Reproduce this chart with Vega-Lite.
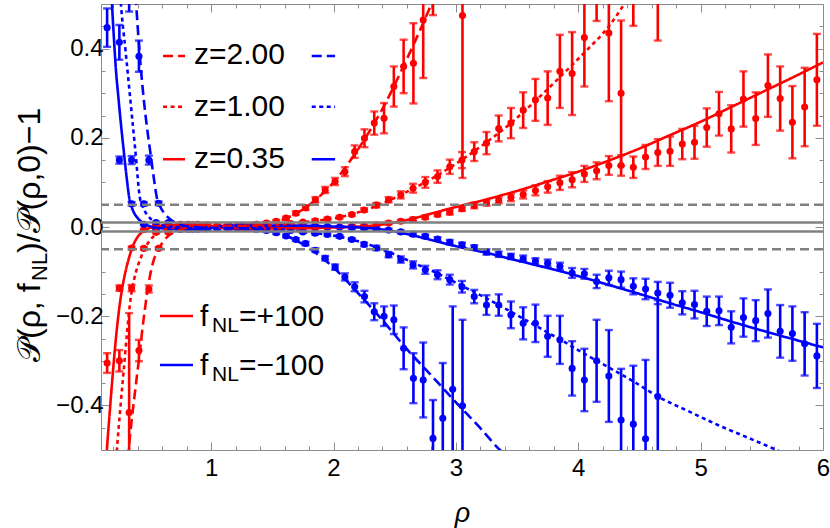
{
"$schema":"https://vega.github.io/schema/vega-lite/v6.json",
"width":722,"height":446,"autosize":{"type":"none"},
"padding":{"left":101,"top":4,"right":7,"bottom":78},
"background":"white",
"config":{"view":{"stroke":"#8c8c8c","strokeWidth":1},"font":"Liberation Sans","text":{"font":"Liberation Sans"}},
"resolve":{"axis":{"x":"independent","y":"independent"}},
"datasets":{
"cur":[
{"s":"rs","x":0.14,"y":-0.535},{"s":"rs","x":0.148,"y":-0.5},{"s":"rs","x":0.17,"y":-0.42},{"s":"rs","x":0.19,"y":-0.35},{"s":"rs","x":0.21,"y":-0.285},{"s":"rs","x":0.23,"y":-0.228},{"s":"rs","x":0.25,"y":-0.18},{"s":"rs","x":0.27,"y":-0.143},{"s":"rs","x":0.3,"y":-0.1},{"s":"rs","x":0.326,"y":-0.072},{"s":"rs","x":0.36,"y":-0.043},{"s":"rs","x":0.4,"y":-0.022},{"s":"rs","x":0.45,"y":-0.009},{"s":"rs","x":0.5,"y":-0.002},{"s":"rs","x":0.6,"y":0.003},{"s":"rs","x":0.75,"y":0.004},{"s":"rs","x":0.9,"y":0.002},{"s":"rs","x":1.1,"y":-0.002},{"s":"rs","x":1.4,"y":-0.003},{"s":"rs","x":1.7,"y":-0.003},{"s":"rs","x":2.0,"y":-0.001},{"s":"rs","x":2.2,"y":0.001},{"s":"rs","x":2.35,"y":0.004},{"s":"rs","x":2.5,"y":0.01},{"s":"rs","x":2.65,"y":0.019},{"s":"rs","x":2.8,"y":0.03},{"s":"rs","x":3.0,"y":0.045},{"s":"rs","x":3.25,"y":0.062},{"s":"rs","x":3.5,"y":0.081},{"s":"rs","x":3.75,"y":0.102},{"s":"rs","x":4.0,"y":0.124},{"s":"rs","x":4.25,"y":0.149},{"s":"rs","x":4.5,"y":0.176},{"s":"rs","x":4.75,"y":0.206},{"s":"rs","x":5.0,"y":0.236},{"s":"rs","x":5.25,"y":0.269},{"s":"rs","x":5.5,"y":0.302},{"s":"rs","x":5.75,"y":0.335},{"s":"rs","x":6.0,"y":0.369},
{"s":"bs","x":0.185,"y":0.53},{"s":"bs","x":0.19,"y":0.5},{"s":"bs","x":0.203,"y":0.435},{"s":"bs","x":0.22,"y":0.36},{"s":"bs","x":0.244,"y":0.285},{"s":"bs","x":0.265,"y":0.225},{"s":"bs","x":0.285,"y":0.173},{"s":"bs","x":0.31,"y":0.11},{"s":"bs","x":0.331,"y":0.065},{"s":"bs","x":0.36,"y":0.038},{"s":"bs","x":0.4,"y":0.02},{"s":"bs","x":0.45,"y":0.008},{"s":"bs","x":0.5,"y":0.002},{"s":"bs","x":0.6,"y":-0.003},{"s":"bs","x":0.75,"y":-0.004},{"s":"bs","x":0.9,"y":-0.002},{"s":"bs","x":1.1,"y":0.002},{"s":"bs","x":1.4,"y":0.003},{"s":"bs","x":1.7,"y":0.003},{"s":"bs","x":2.0,"y":0.001},{"s":"bs","x":2.2,"y":-0.001},{"s":"bs","x":2.35,"y":-0.004},{"s":"bs","x":2.5,"y":-0.01},{"s":"bs","x":2.65,"y":-0.019},{"s":"bs","x":2.8,"y":-0.029},{"s":"bs","x":3.0,"y":-0.043},{"s":"bs","x":3.25,"y":-0.058},{"s":"bs","x":3.5,"y":-0.075},{"s":"bs","x":3.75,"y":-0.092},{"s":"bs","x":4.0,"y":-0.11},{"s":"bs","x":4.25,"y":-0.13},{"s":"bs","x":4.5,"y":-0.15},{"s":"bs","x":4.75,"y":-0.171},{"s":"bs","x":5.0,"y":-0.191},{"s":"bs","x":5.25,"y":-0.212},{"s":"bs","x":5.5,"y":-0.232},{"s":"bs","x":5.75,"y":-0.251},{"s":"bs","x":6.0,"y":-0.27},
{"s":"rd","x":0.225,"y":-0.52},{"s":"rd","x":0.23,"y":-0.5},{"s":"rd","x":0.26,"y":-0.4},{"s":"rd","x":0.286,"y":-0.32},{"s":"rd","x":0.31,"y":-0.245},{"s":"rd","x":0.34,"y":-0.165},{"s":"rd","x":0.37,"y":-0.118},{"s":"rd","x":0.4,"y":-0.088},{"s":"rd","x":0.42,"y":-0.073},{"s":"rd","x":0.45,"y":-0.052},{"s":"rd","x":0.5,"y":-0.03},{"s":"rd","x":0.55,"y":-0.016},{"s":"rd","x":0.6,"y":-0.008},{"s":"rd","x":0.7,"y":-0.001},{"s":"rd","x":0.85,"y":0.002},{"s":"rd","x":1.0,"y":0.001},{"s":"rd","x":1.2,"y":0.0},{"s":"rd","x":1.5,"y":0.004},{"s":"rd","x":1.8,"y":0.012},{"s":"rd","x":2.05,"y":0.022},{"s":"rd","x":2.25,"y":0.037},{"s":"rd","x":2.45,"y":0.059},{"s":"rd","x":2.65,"y":0.086},{"s":"rd","x":2.85,"y":0.116},{"s":"rd","x":3.05,"y":0.151},{"s":"rd","x":3.25,"y":0.19},{"s":"rd","x":3.45,"y":0.233},{"s":"rd","x":3.65,"y":0.283},{"s":"rd","x":3.85,"y":0.336},{"s":"rd","x":4.05,"y":0.391},{"s":"rd","x":4.25,"y":0.45},{"s":"rd","x":4.4,"y":0.51},
{"s":"bd","x":0.258,"y":0.52},{"s":"bd","x":0.263,"y":0.5},{"s":"bd","x":0.3,"y":0.397},{"s":"bd","x":0.34,"y":0.285},{"s":"bd","x":0.38,"y":0.173},{"s":"bd","x":0.42,"y":0.062},{"s":"bd","x":0.435,"y":0.05},{"s":"bd","x":0.47,"y":0.03},{"s":"bd","x":0.5,"y":0.02},{"s":"bd","x":0.55,"y":0.01},{"s":"bd","x":0.6,"y":0.004},{"s":"bd","x":0.7,"y":0.0},{"s":"bd","x":0.85,"y":-0.002},{"s":"bd","x":1.0,"y":-0.001},{"s":"bd","x":1.2,"y":0.0},{"s":"bd","x":1.5,"y":-0.004},{"s":"bd","x":1.8,"y":-0.012},{"s":"bd","x":2.05,"y":-0.022},{"s":"bd","x":2.25,"y":-0.036},{"s":"bd","x":2.45,"y":-0.056},{"s":"bd","x":2.65,"y":-0.08},{"s":"bd","x":2.85,"y":-0.104},{"s":"bd","x":3.05,"y":-0.132},{"s":"bd","x":3.25,"y":-0.16},{"s":"bd","x":3.45,"y":-0.19},{"s":"bd","x":3.65,"y":-0.221},{"s":"bd","x":3.85,"y":-0.252},{"s":"bd","x":4.05,"y":-0.284},{"s":"bd","x":4.25,"y":-0.315},{"s":"bd","x":4.45,"y":-0.346},{"s":"bd","x":4.65,"y":-0.38},{"s":"bd","x":4.9,"y":-0.413},{"s":"bd","x":5.15,"y":-0.445},{"s":"bd","x":5.4,"y":-0.474},{"s":"bd","x":5.62,"y":-0.5},{"s":"bd","x":5.7,"y":-0.51},
{"s":"rD","x":0.32,"y":-0.52},{"s":"rD","x":0.326,"y":-0.5},{"s":"rD","x":0.35,"y":-0.435},{"s":"rD","x":0.38,"y":-0.365},{"s":"rD","x":0.41,"y":-0.297},{"s":"rD","x":0.44,"y":-0.225},{"s":"rD","x":0.476,"y":-0.15},{"s":"rD","x":0.5,"y":-0.11},{"s":"rD","x":0.53,"y":-0.075},{"s":"rD","x":0.57,"y":-0.05},{"s":"rD","x":0.61,"y":-0.032},{"s":"rD","x":0.65,"y":-0.02},{"s":"rD","x":0.75,"y":-0.006},{"s":"rD","x":0.85,"y":0.0},{"s":"rD","x":1.0,"y":0.002},{"s":"rD","x":1.2,"y":0.002},{"s":"rD","x":1.3,"y":0.003},{"s":"rD","x":1.4,"y":0.005},{"s":"rD","x":1.5,"y":0.01},{"s":"rD","x":1.6,"y":0.018},{"s":"rD","x":1.7,"y":0.031},{"s":"rD","x":1.84,"y":0.058},{"s":"rD","x":2.0,"y":0.1},{"s":"rD","x":2.2,"y":0.174},{"s":"rD","x":2.4,"y":0.265},{"s":"rD","x":2.6,"y":0.377},{"s":"rD","x":2.8,"y":0.5},{"s":"rD","x":2.83,"y":0.52},
{"s":"bD","x":0.384,"y":0.52},{"s":"bD","x":0.388,"y":0.5},{"s":"bD","x":0.41,"y":0.41},{"s":"bD","x":0.448,"y":0.29},{"s":"bD","x":0.475,"y":0.225},{"s":"bD","x":0.503,"y":0.168},{"s":"bD","x":0.53,"y":0.113},{"s":"bD","x":0.557,"y":0.065},{"s":"bD","x":0.585,"y":0.045},{"s":"bD","x":0.62,"y":0.03},{"s":"bD","x":0.65,"y":0.021},{"s":"bD","x":0.7,"y":0.011},{"s":"bD","x":0.75,"y":0.005},{"s":"bD","x":0.85,"y":0.0},{"s":"bD","x":1.0,"y":-0.002},{"s":"bD","x":1.3,"y":-0.003},{"s":"bD","x":1.4,"y":-0.005},{"s":"bD","x":1.5,"y":-0.01},{"s":"bD","x":1.6,"y":-0.018},{"s":"bD","x":1.7,"y":-0.031},{"s":"bD","x":1.84,"y":-0.055},{"s":"bD","x":2.0,"y":-0.091},{"s":"bD","x":2.2,"y":-0.148},{"s":"bD","x":2.4,"y":-0.209},{"s":"bD","x":2.6,"y":-0.274},{"s":"bD","x":2.8,"y":-0.333},{"s":"bD","x":3.0,"y":-0.393},{"s":"bD","x":3.2,"y":-0.451},{"s":"bD","x":3.36,"y":-0.5},{"s":"bD","x":3.4,"y":-0.51}
],
"pts":[
{"s":"rs","x":0.15,"y":-0.305,"lo":-0.327,"hi":-0.283},{"s":"rs","x":0.25,"y":-0.137,"lo":-0.143,"hi":-0.131},{"s":"rs","x":0.35,"y":-0.047,"lo":-0.05,"hi":-0.044},{"s":"rs","x":0.45,"y":-0.006,"lo":-0.008,"hi":-0.004},{"s":"rs","x":0.55,"y":0.005,"lo":0.003,"hi":0.007},{"s":"rs","x":0.65,"y":0.006,"lo":0.004,"hi":0.008},{"s":"rs","x":0.75,"y":0.006,"lo":0.004,"hi":0.008},{"s":"rs","x":0.85,"y":0.005,"lo":0.003,"hi":0.007},{"s":"rs","x":0.95,"y":0.003,"lo":0.001,"hi":0.005},{"s":"rs","x":1.05,"y":0.0,"lo":-0.002,"hi":0.002},{"s":"rs","x":1.15,"y":-0.002,"lo":-0.004,"hi":0.0},{"s":"rs","x":1.25,"y":-0.003,"lo":-0.005,"hi":-0.001},{"s":"rs","x":1.35,"y":-0.004,"lo":-0.006,"hi":-0.002},{"s":"rs","x":1.45,"y":-0.004,"lo":-0.006,"hi":-0.002},{"s":"rs","x":1.55,"y":-0.004,"lo":-0.006,"hi":-0.002},{"s":"rs","x":1.65,"y":-0.004,"lo":-0.006,"hi":-0.002},{"s":"rs","x":1.75,"y":-0.003,"lo":-0.005,"hi":-0.001},{"s":"rs","x":1.85,"y":-0.002,"lo":-0.004,"hi":0.0},{"s":"rs","x":1.95,"y":-0.001,"lo":-0.003,"hi":0.001},{"s":"rs","x":2.05,"y":0.0,"lo":-0.002,"hi":0.002},{"s":"rs","x":2.15,"y":0.001,"lo":-0.002,"hi":0.004},{"s":"rs","x":2.25,"y":0.002,"lo":-0.001,"hi":0.005},{"s":"rs","x":2.35,"y":0.005,"lo":0.002,"hi":0.008},{"s":"rs","x":2.45,"y":0.009,"lo":0.006,"hi":0.012},{"s":"rs","x":2.55,"y":0.013,"lo":0.01,"hi":0.016},{"s":"rs","x":2.65,"y":0.017,"lo":0.013,"hi":0.021},{"s":"rs","x":2.75,"y":0.022,"lo":0.018,"hi":0.026},{"s":"rs","x":2.85,"y":0.028,"lo":0.024,"hi":0.032},{"s":"rs","x":2.95,"y":0.033,"lo":0.028,"hi":0.038},{"s":"rs","x":3.05,"y":0.041,"lo":0.036,"hi":0.046},{"s":"rs","x":3.15,"y":0.048,"lo":0.042,"hi":0.054},{"s":"rs","x":3.25,"y":0.054,"lo":0.048,"hi":0.06},{"s":"rs","x":3.35,"y":0.06,"lo":0.053,"hi":0.067},{"s":"rs","x":3.45,"y":0.066,"lo":0.058,"hi":0.074},{"s":"rs","x":3.55,"y":0.073,"lo":0.064,"hi":0.082},{"s":"rs","x":3.65,"y":0.082,"lo":0.071,"hi":0.093},{"s":"rs","x":3.75,"y":0.09,"lo":0.077,"hi":0.103},{"s":"rs","x":3.85,"y":0.099,"lo":0.083,"hi":0.115},{"s":"rs","x":3.95,"y":0.106,"lo":0.089,"hi":0.123},{"s":"rs","x":4.05,"y":0.119,"lo":0.101,"hi":0.137},{"s":"rs","x":4.15,"y":0.126,"lo":0.107,"hi":0.145},{"s":"rs","x":4.25,"y":0.138,"lo":0.117,"hi":0.159},{"s":"rs","x":4.35,"y":0.138,"lo":0.115,"hi":0.161},{"s":"rs","x":4.45,"y":0.134,"lo":0.11,"hi":0.158},{"s":"rs","x":4.55,"y":0.157,"lo":0.13,"hi":0.184},{"s":"rs","x":4.65,"y":0.167,"lo":0.137,"hi":0.197},{"s":"rs","x":4.75,"y":0.17,"lo":0.137,"hi":0.203},{"s":"rs","x":4.85,"y":0.186,"lo":0.152,"hi":0.22},{"s":"rs","x":4.95,"y":0.19,"lo":0.153,"hi":0.227},{"s":"rs","x":5.05,"y":0.223,"lo":0.18,"hi":0.266},{"s":"rs","x":5.15,"y":0.254,"lo":0.205,"hi":0.303},{"s":"rs","x":5.25,"y":0.22,"lo":0.167,"hi":0.273},{"s":"rs","x":5.35,"y":0.287,"lo":0.225,"hi":0.349},{"s":"rs","x":5.45,"y":0.243,"lo":0.184,"hi":0.302},{"s":"rs","x":5.55,"y":0.317,"lo":0.247,"hi":0.387},{"s":"rs","x":5.65,"y":0.288,"lo":0.216,"hi":0.36},{"s":"rs","x":5.75,"y":0.235,"lo":0.154,"hi":0.316},{"s":"rs","x":5.85,"y":0.269,"lo":0.181,"hi":0.357},{"s":"rs","x":5.95,"y":0.33,"lo":0.227,"hi":0.433},
{"s":"bs","x":0.15,"y":0.447,"lo":0.404,"hi":0.49},{"s":"bs","x":0.25,"y":0.15,"lo":0.142,"hi":0.158},{"s":"bs","x":0.35,"y":0.052,"lo":0.048,"hi":0.056},{"s":"bs","x":0.45,"y":0.006,"lo":0.004,"hi":0.008},{"s":"bs","x":0.55,"y":-0.004,"lo":-0.006,"hi":-0.002},{"s":"bs","x":0.65,"y":-0.005,"lo":-0.007,"hi":-0.003},{"s":"bs","x":0.75,"y":-0.005,"lo":-0.007,"hi":-0.003},{"s":"bs","x":0.85,"y":-0.004,"lo":-0.006,"hi":-0.002},{"s":"bs","x":0.95,"y":-0.002,"lo":-0.004,"hi":0.0},{"s":"bs","x":1.05,"y":0.0,"lo":-0.002,"hi":0.002},{"s":"bs","x":1.15,"y":0.002,"lo":0.0,"hi":0.004},{"s":"bs","x":1.25,"y":0.003,"lo":0.001,"hi":0.005},{"s":"bs","x":1.35,"y":0.004,"lo":0.002,"hi":0.006},{"s":"bs","x":1.45,"y":0.004,"lo":0.002,"hi":0.006},{"s":"bs","x":1.55,"y":0.004,"lo":0.002,"hi":0.006},{"s":"bs","x":1.65,"y":0.003,"lo":0.001,"hi":0.005},{"s":"bs","x":1.75,"y":0.003,"lo":0.001,"hi":0.005},{"s":"bs","x":1.85,"y":0.002,"lo":0.0,"hi":0.004},{"s":"bs","x":1.95,"y":0.001,"lo":-0.001,"hi":0.003},{"s":"bs","x":2.05,"y":0.0,"lo":-0.002,"hi":0.002},{"s":"bs","x":2.15,"y":-0.001,"lo":-0.004,"hi":0.002},{"s":"bs","x":2.25,"y":-0.002,"lo":-0.005,"hi":0.001},{"s":"bs","x":2.35,"y":-0.004,"lo":-0.007,"hi":-0.001},{"s":"bs","x":2.45,"y":-0.007,"lo":-0.01,"hi":-0.004},{"s":"bs","x":2.55,"y":-0.011,"lo":-0.014,"hi":-0.008},{"s":"bs","x":2.65,"y":-0.016,"lo":-0.02,"hi":-0.012},{"s":"bs","x":2.75,"y":-0.021,"lo":-0.025,"hi":-0.017},{"s":"bs","x":2.85,"y":-0.027,"lo":-0.031,"hi":-0.023},{"s":"bs","x":2.95,"y":-0.034,"lo":-0.039,"hi":-0.029},{"s":"bs","x":3.05,"y":-0.04,"lo":-0.045,"hi":-0.035},{"s":"bs","x":3.15,"y":-0.046,"lo":-0.051,"hi":-0.041},{"s":"bs","x":3.25,"y":-0.056,"lo":-0.062,"hi":-0.05},{"s":"bs","x":3.35,"y":-0.061,"lo":-0.067,"hi":-0.055},{"s":"bs","x":3.45,"y":-0.066,"lo":-0.072,"hi":-0.06},{"s":"bs","x":3.55,"y":-0.071,"lo":-0.078,"hi":-0.064},{"s":"bs","x":3.65,"y":-0.077,"lo":-0.084,"hi":-0.07},{"s":"bs","x":3.75,"y":-0.081,"lo":-0.089,"hi":-0.073},{"s":"bs","x":3.85,"y":-0.088,"lo":-0.096,"hi":-0.08},{"s":"bs","x":3.95,"y":-0.103,"lo":-0.114,"hi":-0.092},{"s":"bs","x":4.05,"y":-0.105,"lo":-0.116,"hi":-0.094},{"s":"bs","x":4.15,"y":-0.122,"lo":-0.137,"hi":-0.107},{"s":"bs","x":4.25,"y":-0.114,"lo":-0.13,"hi":-0.098},{"s":"bs","x":4.35,"y":-0.118,"lo":-0.136,"hi":-0.1},{"s":"bs","x":4.45,"y":-0.133,"lo":-0.151,"hi":-0.115},{"s":"bs","x":4.55,"y":-0.139,"lo":-0.162,"hi":-0.116},{"s":"bs","x":4.65,"y":-0.148,"lo":-0.173,"hi":-0.123},{"s":"bs","x":4.75,"y":-0.153,"lo":-0.181,"hi":-0.125},{"s":"bs","x":4.85,"y":-0.17,"lo":-0.196,"hi":-0.144},{"s":"bs","x":4.95,"y":-0.174,"lo":-0.205,"hi":-0.143},{"s":"bs","x":5.05,"y":-0.189,"lo":-0.222,"hi":-0.156},{"s":"bs","x":5.15,"y":-0.188,"lo":-0.22,"hi":-0.156},{"s":"bs","x":5.25,"y":-0.225,"lo":-0.261,"hi":-0.189},{"s":"bs","x":5.35,"y":-0.203,"lo":-0.246,"hi":-0.16},{"s":"bs","x":5.45,"y":-0.21,"lo":-0.256,"hi":-0.164},{"s":"bs","x":5.55,"y":-0.194,"lo":-0.248,"hi":-0.14},{"s":"bs","x":5.65,"y":-0.234,"lo":-0.293,"hi":-0.175},{"s":"bs","x":5.75,"y":-0.239,"lo":-0.3,"hi":-0.178},{"s":"bs","x":5.85,"y":-0.262,"lo":-0.333,"hi":-0.191},{"s":"bs","x":5.95,"y":-0.289,"lo":-0.361,"hi":-0.217},
{"s":"rd","x":0.25,"y":-0.3,"lo":-0.324,"hi":-0.276},{"s":"rd","x":0.35,"y":-0.137,"lo":-0.144,"hi":-0.13},{"s":"rd","x":0.45,"y":-0.048,"lo":-0.051,"hi":-0.045},{"s":"rd","x":0.55,"y":-0.012,"lo":-0.014,"hi":-0.01},{"s":"rd","x":0.65,"y":0.002,"lo":0.0,"hi":0.004},{"s":"rd","x":0.75,"y":0.005,"lo":0.003,"hi":0.007},{"s":"rd","x":0.85,"y":0.005,"lo":0.003,"hi":0.007},{"s":"rd","x":0.95,"y":0.004,"lo":0.002,"hi":0.006},{"s":"rd","x":1.05,"y":0.002,"lo":0.0,"hi":0.004},{"s":"rd","x":1.15,"y":0.0,"lo":-0.002,"hi":0.002},{"s":"rd","x":1.25,"y":-0.001,"lo":-0.003,"hi":0.001},{"s":"rd","x":1.35,"y":0.0,"lo":-0.002,"hi":0.002},{"s":"rd","x":1.45,"y":0.002,"lo":0.0,"hi":0.004},{"s":"rd","x":1.55,"y":0.005,"lo":0.003,"hi":0.007},{"s":"rd","x":1.65,"y":0.008,"lo":0.006,"hi":0.01},{"s":"rd","x":1.75,"y":0.011,"lo":0.009,"hi":0.013},{"s":"rd","x":1.85,"y":0.014,"lo":0.011,"hi":0.017},{"s":"rd","x":1.95,"y":0.018,"lo":0.015,"hi":0.021},{"s":"rd","x":2.05,"y":0.022,"lo":0.019,"hi":0.025},{"s":"rd","x":2.15,"y":0.028,"lo":0.025,"hi":0.031},{"s":"rd","x":2.25,"y":0.038,"lo":0.034,"hi":0.042},{"s":"rd","x":2.35,"y":0.049,"lo":0.044,"hi":0.054},{"s":"rd","x":2.45,"y":0.061,"lo":0.055,"hi":0.067},{"s":"rd","x":2.55,"y":0.072,"lo":0.064,"hi":0.08},{"s":"rd","x":2.65,"y":0.087,"lo":0.077,"hi":0.097},{"s":"rd","x":2.75,"y":0.1,"lo":0.088,"hi":0.112},{"s":"rd","x":2.85,"y":0.113,"lo":0.099,"hi":0.127},{"s":"rd","x":2.95,"y":0.135,"lo":0.119,"hi":0.151},{"s":"rd","x":3.05,"y":0.15,"lo":0.132,"hi":0.168},{"s":"rd","x":3.15,"y":0.169,"lo":0.148,"hi":0.19},{"s":"rd","x":3.25,"y":0.188,"lo":0.163,"hi":0.213},{"s":"rd","x":3.35,"y":0.221,"lo":0.192,"hi":0.25},{"s":"rd","x":3.45,"y":0.233,"lo":0.199,"hi":0.267},{"s":"rd","x":3.55,"y":0.262,"lo":0.222,"hi":0.302},{"s":"rd","x":3.65,"y":0.285,"lo":0.238,"hi":0.332},{"s":"rd","x":3.75,"y":0.289,"lo":0.229,"hi":0.349},{"s":"rd","x":3.85,"y":0.349,"lo":0.267,"hi":0.431},{"s":"rd","x":3.95,"y":0.344,"lo":0.251,"hi":0.437},{"s":"rd","x":4.05,"y":0.425,"lo":0.315,"hi":0.535},{"s":"rd","x":4.15,"y":0.56,"lo":0.462,"hi":0.658},{"s":"rd","x":4.25,"y":0.435,"lo":0.282,"hi":0.588},{"s":"rd","x":4.35,"y":0.3,"lo":0.137,"hi":0.463},{"s":"rd","x":4.45,"y":0.58,"lo":0.451,"hi":0.709},{"s":"rd","x":4.65,"y":0.6,"lo":0.418,"hi":0.782},
{"s":"bd","x":0.25,"y":0.414,"lo":0.375,"hi":0.453},{"s":"bd","x":0.35,"y":0.15,"lo":0.141,"hi":0.159},{"s":"bd","x":0.45,"y":0.052,"lo":0.048,"hi":0.056},{"s":"bd","x":0.55,"y":0.01,"lo":0.008,"hi":0.012},{"s":"bd","x":0.65,"y":-0.002,"lo":-0.004,"hi":0.0},{"s":"bd","x":0.75,"y":-0.005,"lo":-0.007,"hi":-0.003},{"s":"bd","x":0.85,"y":-0.005,"lo":-0.007,"hi":-0.003},{"s":"bd","x":0.95,"y":-0.004,"lo":-0.006,"hi":-0.002},{"s":"bd","x":1.05,"y":-0.002,"lo":-0.004,"hi":0.0},{"s":"bd","x":1.15,"y":0.0,"lo":-0.002,"hi":0.002},{"s":"bd","x":1.25,"y":0.001,"lo":-0.001,"hi":0.003},{"s":"bd","x":1.35,"y":0.0,"lo":-0.002,"hi":0.002},{"s":"bd","x":1.45,"y":-0.002,"lo":-0.004,"hi":0.0},{"s":"bd","x":1.55,"y":-0.005,"lo":-0.007,"hi":-0.003},{"s":"bd","x":1.65,"y":-0.008,"lo":-0.01,"hi":-0.006},{"s":"bd","x":1.75,"y":-0.011,"lo":-0.013,"hi":-0.009},{"s":"bd","x":1.85,"y":-0.014,"lo":-0.017,"hi":-0.011},{"s":"bd","x":1.95,"y":-0.017,"lo":-0.02,"hi":-0.014},{"s":"bd","x":2.05,"y":-0.021,"lo":-0.024,"hi":-0.018},{"s":"bd","x":2.15,"y":-0.028,"lo":-0.031,"hi":-0.025},{"s":"bd","x":2.25,"y":-0.039,"lo":-0.043,"hi":-0.035},{"s":"bd","x":2.35,"y":-0.047,"lo":-0.052,"hi":-0.042},{"s":"bd","x":2.45,"y":-0.062,"lo":-0.068,"hi":-0.056},{"s":"bd","x":2.55,"y":-0.073,"lo":-0.08,"hi":-0.066},{"s":"bd","x":2.65,"y":-0.085,"lo":-0.093,"hi":-0.077},{"s":"bd","x":2.75,"y":-0.096,"lo":-0.105,"hi":-0.087},{"s":"bd","x":2.85,"y":-0.107,"lo":-0.117,"hi":-0.097},{"s":"bd","x":2.95,"y":-0.118,"lo":-0.129,"hi":-0.107},{"s":"bd","x":3.05,"y":-0.134,"lo":-0.147,"hi":-0.121},{"s":"bd","x":3.15,"y":-0.156,"lo":-0.171,"hi":-0.141},{"s":"bd","x":3.25,"y":-0.175,"lo":-0.197,"hi":-0.153},{"s":"bd","x":3.35,"y":-0.175,"lo":-0.199,"hi":-0.151},{"s":"bd","x":3.45,"y":-0.197,"lo":-0.227,"hi":-0.167},{"s":"bd","x":3.55,"y":-0.216,"lo":-0.252,"hi":-0.18},{"s":"bd","x":3.65,"y":-0.216,"lo":-0.258,"hi":-0.174},{"s":"bd","x":3.75,"y":-0.245,"lo":-0.291,"hi":-0.199},{"s":"bd","x":3.85,"y":-0.253,"lo":-0.307,"hi":-0.199},{"s":"bd","x":3.95,"y":-0.317,"lo":-0.378,"hi":-0.256},{"s":"bd","x":4.05,"y":-0.343,"lo":-0.413,"hi":-0.273},{"s":"bd","x":4.15,"y":-0.3,"lo":-0.392,"hi":-0.208},{"s":"bd","x":4.25,"y":-0.334,"lo":-0.437,"hi":-0.231},{"s":"bd","x":4.35,"y":-0.433,"lo":-0.548,"hi":-0.318},{"s":"bd","x":4.45,"y":-0.442,"lo":-0.573,"hi":-0.311},{"s":"bd","x":4.55,"y":-0.475,"lo":-0.652,"hi":-0.298},{"s":"bd","x":4.65,"y":-0.38,"lo":-0.596,"hi":-0.164},
{"s":"rD","x":0.33,"y":-0.416,"lo":-0.639,"hi":-0.193},{"s":"rD","x":0.41,"y":-0.277,"lo":-0.301,"hi":-0.253},{"s":"rD","x":0.491,"y":-0.139,"lo":-0.147,"hi":-0.131},{"s":"rD","x":0.571,"y":-0.048,"lo":-0.051,"hi":-0.045},{"s":"rD","x":0.651,"y":-0.012,"lo":-0.014,"hi":-0.01},{"s":"rD","x":0.731,"y":0.003,"lo":0.001,"hi":0.005},{"s":"rD","x":0.811,"y":0.006,"lo":0.004,"hi":0.008},{"s":"rD","x":0.891,"y":0.006,"lo":0.004,"hi":0.008},{"s":"rD","x":0.971,"y":0.005,"lo":0.003,"hi":0.007},{"s":"rD","x":1.051,"y":0.003,"lo":0.001,"hi":0.005},{"s":"rD","x":1.131,"y":0.002,"lo":0.0,"hi":0.004},{"s":"rD","x":1.212,"y":0.002,"lo":0.0,"hi":0.004},{"s":"rD","x":1.292,"y":0.003,"lo":0.001,"hi":0.005},{"s":"rD","x":1.372,"y":0.006,"lo":0.003,"hi":0.009},{"s":"rD","x":1.452,"y":0.009,"lo":0.006,"hi":0.012},{"s":"rD","x":1.532,"y":0.013,"lo":0.01,"hi":0.016},{"s":"rD","x":1.612,"y":0.02,"lo":0.017,"hi":0.023},{"s":"rD","x":1.692,"y":0.031,"lo":0.027,"hi":0.035},{"s":"rD","x":1.772,"y":0.043,"lo":0.038,"hi":0.048},{"s":"rD","x":1.852,"y":0.061,"lo":0.055,"hi":0.067},{"s":"rD","x":1.932,"y":0.083,"lo":0.076,"hi":0.09},{"s":"rD","x":2.013,"y":0.102,"lo":0.094,"hi":0.11},{"s":"rD","x":2.093,"y":0.124,"lo":0.114,"hi":0.134},{"s":"rD","x":2.173,"y":0.169,"lo":0.155,"hi":0.183},{"s":"rD","x":2.253,"y":0.199,"lo":0.179,"hi":0.219},{"s":"rD","x":2.333,"y":0.233,"lo":0.207,"hi":0.259},{"s":"rD","x":2.413,"y":0.244,"lo":0.21,"hi":0.278},{"s":"rD","x":2.493,"y":0.315,"lo":0.27,"hi":0.36},{"s":"rD","x":2.573,"y":0.36,"lo":0.3,"hi":0.42},{"s":"rD","x":2.653,"y":0.367,"lo":0.277,"hi":0.457},{"s":"rD","x":2.733,"y":0.464,"lo":0.334,"hi":0.594},{"s":"rD","x":2.813,"y":0.6,"lo":0.475,"hi":0.725},{"s":"rD","x":3.054,"y":0.474,"lo":0.11,"hi":0.838},
{"s":"bD","x":0.33,"y":0.6,"lo":0.483,"hi":0.717},{"s":"bD","x":0.41,"y":0.383,"lo":0.348,"hi":0.418},{"s":"bD","x":0.491,"y":0.15,"lo":0.14,"hi":0.16},{"s":"bD","x":0.571,"y":0.053,"lo":0.049,"hi":0.057},{"s":"bD","x":0.651,"y":0.01,"lo":0.008,"hi":0.012},{"s":"bD","x":0.731,"y":-0.003,"lo":-0.005,"hi":-0.001},{"s":"bD","x":0.811,"y":-0.005,"lo":-0.007,"hi":-0.003},{"s":"bD","x":0.891,"y":-0.005,"lo":-0.007,"hi":-0.003},{"s":"bD","x":0.971,"y":-0.004,"lo":-0.006,"hi":-0.002},{"s":"bD","x":1.051,"y":-0.003,"lo":-0.005,"hi":-0.001},{"s":"bD","x":1.131,"y":-0.002,"lo":-0.004,"hi":0.0},{"s":"bD","x":1.212,"y":-0.002,"lo":-0.004,"hi":0.0},{"s":"bD","x":1.292,"y":-0.003,"lo":-0.005,"hi":-0.001},{"s":"bD","x":1.372,"y":-0.005,"lo":-0.007,"hi":-0.003},{"s":"bD","x":1.452,"y":-0.008,"lo":-0.011,"hi":-0.005},{"s":"bD","x":1.532,"y":-0.013,"lo":-0.016,"hi":-0.01},{"s":"bD","x":1.612,"y":-0.02,"lo":-0.023,"hi":-0.017},{"s":"bD","x":1.692,"y":-0.028,"lo":-0.031,"hi":-0.025},{"s":"bD","x":1.772,"y":-0.037,"lo":-0.041,"hi":-0.033},{"s":"bD","x":1.852,"y":-0.052,"lo":-0.056,"hi":-0.048},{"s":"bD","x":1.932,"y":-0.07,"lo":-0.075,"hi":-0.065},{"s":"bD","x":2.013,"y":-0.09,"lo":-0.096,"hi":-0.084},{"s":"bD","x":2.093,"y":-0.112,"lo":-0.12,"hi":-0.104},{"s":"bD","x":2.173,"y":-0.134,"lo":-0.144,"hi":-0.124},{"s":"bD","x":2.253,"y":-0.156,"lo":-0.169,"hi":-0.143},{"s":"bD","x":2.333,"y":-0.19,"lo":-0.209,"hi":-0.171},{"s":"bD","x":2.413,"y":-0.2,"lo":-0.222,"hi":-0.178},{"s":"bD","x":2.493,"y":-0.208,"lo":-0.24,"hi":-0.176},{"s":"bD","x":2.573,"y":-0.272,"lo":-0.319,"hi":-0.225},{"s":"bD","x":2.653,"y":-0.339,"lo":-0.395,"hi":-0.283},{"s":"bD","x":2.733,"y":-0.343,"lo":-0.427,"hi":-0.259},{"s":"bD","x":2.813,"y":-0.474,"lo":-0.56,"hi":-0.388},{"s":"bD","x":2.893,"y":-0.429,"lo":-0.553,"hi":-0.305},{"s":"bD","x":2.974,"y":-0.364,"lo":-0.55,"hi":-0.178},{"s":"bD","x":3.054,"y":-0.401,"lo":-0.594,"hi":-0.208}
],
"leg":[
{"s":"rD","x":0.607,"x2":0.787,"y":0.3834},{"s":"bD","x":1.822,"x2":2.013,"y":0.3834},
{"s":"rd","x":0.607,"x2":0.787,"y":0.2697},{"s":"bd","x":1.822,"x2":2.013,"y":0.2697},
{"s":"rs","x":0.607,"x2":0.787,"y":0.1518},{"s":"bs","x":1.822,"x2":2.013,"y":0.1518},
{"s":"rs","x":0.582,"x2":0.852,"y":-0.1996},{"s":"bs","x":0.582,"x2":0.852,"y":-0.3094}
],
"txt":[
{"t":"z=2.00","x":0.86,"y":0.3655,"fs":30},{"t":"z=1.00","x":0.86,"y":0.2496,"fs":30},{"t":"z=0.35","x":0.86,"y":0.1316,"fs":30},
{"t":"f","x":0.909,"y":-0.222,"fs":30},{"t":"NL","x":1.007,"y":-0.2354,"fs":21},{"t":"=+100","x":1.228,"y":-0.222,"fs":30},
{"t":"f","x":0.909,"y":-0.3318,"fs":30},{"t":"NL","x":1.007,"y":-0.3453,"fs":21},{"t":"=−100","x":1.228,"y":-0.3318,"fs":30}
],
"ytl":[
{"t":"𝒫(ρ, f","x":-0.3986,"y":-0.3027,"fs":32},{"t":"NL","x":-0.3414,"y":-0.1211,"fs":22},{"t":")/𝒫(ρ,0)−1","x":-0.3986,"y":-0.0583,"fs":32}
]
},
"layer":[
{"data":{"values":[{"x":1,"y":0}]},"mark":{"type":"point","opacity":0},
 "encoding":{
  "x":{"field":"x","type":"quantitative","scale":{"domain":[0.1,6],"nice":false,"zero":false},
   "axis":{"orient":"bottom","values":[0.2,0.4,0.6,0.8,1,1.2,1.4,1.6,1.8,2,2.2,2.4,2.6,2.8,3,3.2,3.4,3.6,3.8,4,4.2,4.4,4.6,4.8,5,5.2,5.4,5.6,5.8,6],
    "labelExpr":"datum.value % 1 === 0 ? format(datum.value,'d') : ''","labelFontSize":24,"labelColor":"black","labelFont":"Liberation Sans","labelPadding":14,"labelFlush":false,"labelOverlap":false,"labelBound":false,
    "tickSize":{"condition":{"test":"datum.value % 1 === 0","value":-8},"value":-4},"tickColor":"#8c8c8c","tickWidth":1,"domain":false,"grid":false,
    "title":"ρ","titleFontStyle":"italic","titleFontWeight":"normal","titleFontSize":27,"titleColor":"black","titleFont":"Liberation Sans","titlePadding":16}},
  "y":{"field":"y","type":"quantitative","scale":{"domain":[-0.5,0.5],"nice":false,"zero":false},
   "axis":{"orient":"left","values":[-0.45,-0.4,-0.35,-0.3,-0.25,-0.2,-0.15,-0.1,-0.05,0,0.05,0.1,0.15,0.2,0.25,0.3,0.35,0.4,0.45],
    "labelExpr":"abs(datum.value*5-round(datum.value*5))<0.001 ? format(datum.value,'.1f') : ''","labelFontSize":24,"labelColor":"black","labelFont":"Liberation Sans","labelPadding":6,"labelOverlap":false,"labelBound":false,"labelFlush":false,
    "tickSize":{"condition":{"test":"abs(datum.value*5-round(datum.value*5))<0.001","value":-8},"value":-4},"tickColor":"#8c8c8c","tickWidth":1,"domain":false,"grid":false,"title":null}}
 }},
{"data":{"values":[{"x":1,"y":0}]},"mark":{"type":"point","opacity":0},
 "encoding":{
  "x":{"field":"x","type":"quantitative","scale":{"domain":[0.1,6],"nice":false,"zero":false},
   "axis":{"orient":"top","values":[0.2,0.4,0.6,0.8,1,1.2,1.4,1.6,1.8,2,2.2,2.4,2.6,2.8,3,3.2,3.4,3.6,3.8,4,4.2,4.4,4.6,4.8,5,5.2,5.4,5.6,5.8,6],"labels":false,
    "tickSize":{"condition":{"test":"datum.value % 1 === 0","value":-8},"value":-4},"tickColor":"#8c8c8c","tickWidth":1,"domain":false,"grid":false,"title":null}},
  "y":{"field":"y","type":"quantitative","scale":{"domain":[-0.5,0.5],"nice":false,"zero":false},
   "axis":{"orient":"right","values":[-0.45,-0.4,-0.35,-0.3,-0.25,-0.2,-0.15,-0.1,-0.05,0,0.05,0.1,0.15,0.2,0.25,0.3,0.35,0.4,0.45],"labels":false,
    "tickSize":{"condition":{"test":"abs(datum.value*5-round(datum.value*5))<0.001","value":-8},"value":-4},"tickColor":"#8c8c8c","tickWidth":1,"domain":false,"grid":false,"title":null}}
 }},
{"data":{"name":"pts"},"mark":{"type":"rule","strokeWidth":2.6,"clip":true},
 "encoding":{"x":{"field":"x","type":"quantitative","scale":{"domain":[0.1,6],"nice":false,"zero":false},"axis":null},
  "y":{"field":"lo","type":"quantitative","scale":{"domain":[-0.5,0.5],"nice":false,"zero":false},"axis":null},"y2":{"field":"hi"},
  "color":{"field":"s","type":"nominal","scale":{"domain":["rs","bs","rd","bd","rD","bD"],"range":["#ff0000","#0000ff","#ff0000","#0000ff","#ff0000","#0000ff"]},"legend":null}}},
{"data":{"name":"pts"},"mark":{"type":"tick","orient":"horizontal","size":8,"thickness":2.4,"clip":true},
 "encoding":{"x":{"field":"x","type":"quantitative","scale":{"domain":[0.1,6],"nice":false,"zero":false},"axis":null},
  "y":{"field":"lo","type":"quantitative","scale":{"domain":[-0.5,0.5],"nice":false,"zero":false},"axis":null},
  "color":{"field":"s","type":"nominal","scale":{"domain":["rs","bs","rd","bd","rD","bD"],"range":["#ff0000","#0000ff","#ff0000","#0000ff","#ff0000","#0000ff"]},"legend":null}}},
{"data":{"name":"pts"},"mark":{"type":"tick","orient":"horizontal","size":8,"thickness":2.4,"clip":true},
 "encoding":{"x":{"field":"x","type":"quantitative","scale":{"domain":[0.1,6],"nice":false,"zero":false},"axis":null},
  "y":{"field":"hi","type":"quantitative","scale":{"domain":[-0.5,0.5],"nice":false,"zero":false},"axis":null},
  "color":{"field":"s","type":"nominal","scale":{"domain":["rs","bs","rd","bd","rD","bD"],"range":["#ff0000","#0000ff","#ff0000","#0000ff","#ff0000","#0000ff"]},"legend":null}}},
{"data":{"name":"pts"},"mark":{"type":"circle","size":50,"opacity":1,"clip":true},
 "encoding":{"x":{"field":"x","type":"quantitative","scale":{"domain":[0.1,6],"nice":false,"zero":false},"axis":null},
  "y":{"field":"y","type":"quantitative","scale":{"domain":[-0.5,0.5],"nice":false,"zero":false},"axis":null},
  "color":{"field":"s","type":"nominal","scale":{"domain":["rs","bs","rd","bd","rD","bD"],"range":["#ff0000","#0000ff","#ff0000","#0000ff","#ff0000","#0000ff"]},"legend":null}}},
{"data":{"name":"cur"},"mark":{"type":"line","strokeWidth":2.6,"clip":true,"interpolate":"monotone"},
 "encoding":{"x":{"field":"x","type":"quantitative","scale":{"domain":[0.1,6],"nice":false,"zero":false},"axis":null},
  "y":{"field":"y","type":"quantitative","scale":{"domain":[-0.5,0.5],"nice":false,"zero":false},"axis":null},
  "detail":{"field":"s"},
  "color":{"field":"s","type":"nominal","scale":{"domain":["rs","bs","rd","bd","rD","bD"],"range":["#ff0000","#0000ff","#ff0000","#0000ff","#ff0000","#0000ff"]},"legend":null},
  "strokeDash":{"field":"s","type":"nominal","scale":{"domain":["rs","bs","rd","bd","rD","bD"],"range":[[1,0],[1,0],[4,3.5],[4,3.5],[10,5],[10,5]]},"legend":null}}},
{"data":{"values":[{"v":0.01},{"v":-0.01}]},
 "mark":{"type":"rule","color":"#808080","strokeWidth":2.5},
 "encoding":{"y":{"field":"v","type":"quantitative","scale":{"domain":[-0.5,0.5],"nice":false,"zero":false},"axis":null}}},
{"data":{"values":[{"v":0.05},{"v":-0.05}]},
 "mark":{"type":"rule","color":"#808080","strokeWidth":2.5,"strokeDash":[9,5]},
 "encoding":{"y":{"field":"v","type":"quantitative","scale":{"domain":[-0.5,0.5],"nice":false,"zero":false},"axis":null}}},
{"data":{"name":"leg"},"mark":{"type":"rule","strokeWidth":2.6},
 "encoding":{"x":{"field":"x","type":"quantitative","scale":{"domain":[0.1,6],"nice":false,"zero":false},"axis":null},"x2":{"field":"x2"},
  "y":{"field":"y","type":"quantitative","scale":{"domain":[-0.5,0.5],"nice":false,"zero":false},"axis":null},
  "color":{"field":"s","type":"nominal","scale":{"domain":["rs","bs","rd","bd","rD","bD"],"range":["#ff0000","#0000ff","#ff0000","#0000ff","#ff0000","#0000ff"]},"legend":null},
  "strokeDash":{"field":"s","type":"nominal","scale":{"domain":["rs","bs","rd","bd","rD","bD"],"range":[[1,0],[1,0],[4,3.5],[4,3.5],[10,5],[10,5]]},"legend":null}}},
{"data":{"name":"txt"},"mark":{"type":"text","align":"left","baseline":"alphabetic","font":"Liberation Sans","color":"black"},
 "encoding":{"x":{"field":"x","type":"quantitative","scale":{"domain":[0.1,6],"nice":false,"zero":false},"axis":null},
  "y":{"field":"y","type":"quantitative","scale":{"domain":[-0.5,0.5],"nice":false,"zero":false},"axis":null},
  "text":{"field":"t"},"size":{"field":"fs","type":"quantitative","scale":null}}},
{"data":{"name":"ytl"},"mark":{"type":"text","align":"left","baseline":"alphabetic","angle":270,"font":"Liberation Sans","color":"black","clip":false},
 "encoding":{"x":{"field":"x","type":"quantitative","scale":{"domain":[0.1,6],"nice":false,"zero":false},"axis":null},
  "y":{"field":"y","type":"quantitative","scale":{"domain":[-0.5,0.5],"nice":false,"zero":false},"axis":null},
  "text":{"field":"t"},"size":{"field":"fs","type":"quantitative","scale":null}}}
]
}
